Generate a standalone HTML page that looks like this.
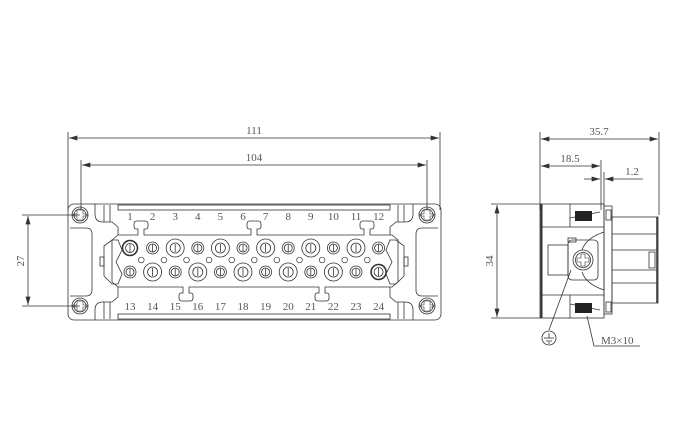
<!DOCTYPE html>
<html><head><style>html,body{margin:0;padding:0;background:#fff}svg{display:block}text{font-family:"Liberation Serif",serif;font-size:11px;fill:#555}</style></head>
<body>
<svg width="680" height="440" viewBox="0 0 680 440" xmlns="http://www.w3.org/2000/svg">
<defs>
<marker id="a" viewBox="0 0 10 6" refX="10" refY="3" markerWidth="9" markerHeight="5" orient="auto-start-reverse" markerUnits="userSpaceOnUse"><path d="M0,0L10,3L0,6z" fill="#333"/></marker>
</defs>
<g stroke="#333" stroke-width="0.8" fill="none">
<line x1="68" y1="132" x2="68" y2="210"/><line x1="440" y1="132" x2="440" y2="210"/>
<line x1="69" y1="138" x2="439" y2="138" marker-start="url(#a)" marker-end="url(#a)"/>
<line x1="81" y1="160" x2="81" y2="210"/><line x1="427" y1="160" x2="427" y2="210"/>
<line x1="82" y1="165" x2="426" y2="165" marker-start="url(#a)" marker-end="url(#a)"/>
<line x1="22" y1="215" x2="80" y2="215"/><line x1="22" y1="306" x2="80" y2="306"/>
<line x1="28" y1="216" x2="28" y2="305" marker-start="url(#a)" marker-end="url(#a)"/>
<rect x="68" y="204" width="373" height="116" rx="6"/>
<path d="M95,204 V214 Q95,222 103,222 H112 L118,227 V235"/>
<path d="M95,320 V310 Q95,302 103,302 H112 L118,297 V287"/>
<path d="M413,204 V214 Q413,222 405,222 H396 L390,227 V235"/>
<path d="M413,320 V310 Q413,302 405,302 H396 L390,297 V287"/>
<path d="M70,228 H86 Q92,228 92,234 V290 Q92,296 86,296 H70"/>
<path d="M438,228 H422 Q416,228 416,234 V290 Q416,296 422,296 H438"/>
<rect x="118" y="205" width="272" height="5"/><rect x="118" y="314" width="272" height="5"/>
<line x1="104" y1="205" x2="104" y2="222"/><line x1="110" y1="205" x2="110" y2="222"/>
<line x1="104" y1="302" x2="104" y2="319"/><line x1="110" y1="302" x2="110" y2="319"/>
<line x1="398" y1="205" x2="398" y2="222"/><line x1="404" y1="205" x2="404" y2="222"/>
<line x1="398" y1="302" x2="398" y2="319"/><line x1="404" y1="302" x2="404" y2="319"/>
<path d="M118,235 H138 V229 H136 Q134,229 134,226 V224 Q134,221 137,221 H145 Q148,221 148,224 V226 Q148,229 146,229 H144 V235 H251 V229 H249 Q247,229 247,226 V224 Q247,221 250,221 H258 Q261,221 261,224 V226 Q261,229 259,229 H257 V235 H364 V229 H362 Q360,229 360,226 V224 Q360,221 363,221 H371 Q374,221 374,224 V226 Q374,229 372,229 H370 V235 H392 L398,240 V282 L392,287 H325 V293 H327 Q329,293 329,296 V298 Q329,301 326,301 H318 Q315,301 315,298 V296 Q315,293 317,293 H319 V287 H189 V293 H191 Q193,293 193,296 V298 Q193,301 190,301 H182 Q179,301 179,298 V296 Q179,293 181,293 H183 V287 H118 L112,282 V240 Z"/>
<path d="M104,246 L112,240 H118 L122,250 L116,262 L122,274 L118,284 H112 L104,276 Z"/>
<rect x="100" y="257" width="4" height="9"/>
<path d="M404,246 L396,240 H390 L386,250 L392,262 L386,274 L390,284 H396 L404,276 Z"/>
<rect x="404" y="257" width="4" height="9"/>
<g id="s"><circle cx="80" cy="215" r="8"/><circle cx="80" cy="215" r="6"/><path d="M77,210h6v4h4v2h-4v4h-6v-4h-4v-2h4z" stroke-width="0.6"/></g>
<use href="#s" transform="translate(0,91)"/><use href="#s" transform="translate(347,0)"/><use href="#s" transform="translate(347,91)"/>
<line x1="540" y1="132" x2="540" y2="210"/><line x1="659" y1="132" x2="659" y2="215"/>
<line x1="541" y1="139" x2="658" y2="139" marker-start="url(#a)" marker-end="url(#a)"/>
<line x1="601" y1="160" x2="601" y2="210"/><line x1="604" y1="172" x2="604" y2="206"/>
<line x1="541" y1="166" x2="600" y2="166" marker-start="url(#a)" marker-end="url(#a)"/>
<line x1="584" y1="179" x2="600" y2="179" marker-end="url(#a)"/>
<line x1="621" y1="179" x2="605" y2="179" marker-end="url(#a)"/><line x1="621" y1="179" x2="643" y2="179"/>
<line x1="491" y1="204" x2="540" y2="204"/><line x1="491" y1="318" x2="540" y2="318"/>
<line x1="497" y1="205" x2="497" y2="317" marker-start="url(#a)" marker-end="url(#a)"/>
<rect x="540" y="204" width="64" height="114"/>
<line x1="541.5" y1="204" x2="541.5" y2="318" stroke-width="2"/>
<line x1="540" y1="227" x2="604" y2="227"/><line x1="540" y1="295" x2="604" y2="295"/>
<line x1="570" y1="204" x2="570" y2="227"/><line x1="570" y1="295" x2="570" y2="318"/>
<path d="M570,218 L600,212"/><path d="M570,304 L600,310"/>
<path d="M604,232 Q586,238 582,250"/><path d="M604,290 Q586,284 582,272"/>
<rect x="548" y="245" width="20" height="30"/><rect x="568" y="240" width="30" height="40" rx="4"/>
<rect x="568" y="238" width="8" height="4"/>
<circle cx="583" cy="260" r="10"/><circle cx="583" cy="260" r="7.5"/>
<path d="M581,254h4v4h4v4h-4v4h-4v-4h-4v-4h4z" stroke-width="0.6"/>
<rect x="604" y="206" width="8" height="108"/>
<rect x="606" y="210" width="5" height="10"/><rect x="606" y="302" width="5" height="10"/>
<rect x="612" y="217" width="46" height="86"/>
<line x1="612" y1="234" x2="658" y2="234"/><line x1="612" y1="283" x2="658" y2="283"/>
<line x1="612" y1="250" x2="658" y2="250"/><line x1="612" y1="270" x2="658" y2="270"/>
<rect x="649" y="252" width="6" height="16"/>
<line x1="657" y1="217" x2="657" y2="303" stroke-width="1.5"/>
<line x1="571" y1="270" x2="549" y2="330"/>
<circle cx="549" cy="338" r="7"/>
<line x1="549" y1="333" x2="549" y2="338"/><line x1="544" y1="338" x2="554" y2="338"/><line x1="546" y1="341" x2="552" y2="341"/><line x1="548" y1="343" x2="550" y2="343"/>
<path d="M587,316 L594,346 H640"/>
</g>
<rect x="575" y="211" width="17" height="10" fill="#222"/><rect x="575" y="303" width="17" height="10" fill="#222"/>
<g stroke="#333" stroke-width="0.8" fill="none">
<circle cx="130" cy="248" r="7.5" stroke-width="1.6"/><circle cx="130" cy="248" r="4.5"/><line x1="130" y1="244" x2="130" y2="252"/>
<circle cx="152.6" cy="248" r="6"/><circle cx="152.6" cy="248" r="4"/><line x1="152.6" y1="244.5" x2="152.6" y2="251.5"/>
<circle cx="175.2" cy="248" r="9"/><circle cx="175.2" cy="248" r="5"/><line x1="175.2" y1="244" x2="175.2" y2="252"/>
<circle cx="197.8" cy="248" r="6"/><circle cx="197.8" cy="248" r="4"/><line x1="197.8" y1="244.5" x2="197.8" y2="251.5"/>
<circle cx="220.4" cy="248" r="9"/><circle cx="220.4" cy="248" r="5"/><line x1="220.4" y1="244" x2="220.4" y2="252"/>
<circle cx="243" cy="248" r="6"/><circle cx="243" cy="248" r="4"/><line x1="243" y1="244.5" x2="243" y2="251.5"/>
<circle cx="265.6" cy="248" r="9"/><circle cx="265.6" cy="248" r="5"/><line x1="265.6" y1="244" x2="265.6" y2="252"/>
<circle cx="288.2" cy="248" r="6"/><circle cx="288.2" cy="248" r="4"/><line x1="288.2" y1="244.5" x2="288.2" y2="251.5"/>
<circle cx="310.8" cy="248" r="9"/><circle cx="310.8" cy="248" r="5"/><line x1="310.8" y1="244" x2="310.8" y2="252"/>
<circle cx="333.4" cy="248" r="6"/><circle cx="333.4" cy="248" r="4"/><line x1="333.4" y1="244.5" x2="333.4" y2="251.5"/>
<circle cx="356" cy="248" r="9"/><circle cx="356" cy="248" r="5"/><line x1="356" y1="244" x2="356" y2="252"/>
<circle cx="378.6" cy="248" r="6"/><circle cx="378.6" cy="248" r="4"/><line x1="378.6" y1="244.5" x2="378.6" y2="251.5"/>
<circle cx="130" cy="272" r="6"/><circle cx="130" cy="272" r="4"/><line x1="130" y1="268.5" x2="130" y2="275.5"/>
<circle cx="152.6" cy="272" r="9"/><circle cx="152.6" cy="272" r="5"/><line x1="152.6" y1="268" x2="152.6" y2="276"/>
<circle cx="175.2" cy="272" r="6"/><circle cx="175.2" cy="272" r="4"/><line x1="175.2" y1="268.5" x2="175.2" y2="275.5"/>
<circle cx="197.8" cy="272" r="9"/><circle cx="197.8" cy="272" r="5"/><line x1="197.8" y1="268" x2="197.8" y2="276"/>
<circle cx="220.4" cy="272" r="6"/><circle cx="220.4" cy="272" r="4"/><line x1="220.4" y1="268.5" x2="220.4" y2="275.5"/>
<circle cx="243" cy="272" r="9"/><circle cx="243" cy="272" r="5"/><line x1="243" y1="268" x2="243" y2="276"/>
<circle cx="265.6" cy="272" r="6"/><circle cx="265.6" cy="272" r="4"/><line x1="265.6" y1="268.5" x2="265.6" y2="275.5"/>
<circle cx="288.2" cy="272" r="9"/><circle cx="288.2" cy="272" r="5"/><line x1="288.2" y1="268" x2="288.2" y2="276"/>
<circle cx="310.8" cy="272" r="6"/><circle cx="310.8" cy="272" r="4"/><line x1="310.8" y1="268.5" x2="310.8" y2="275.5"/>
<circle cx="333.4" cy="272" r="9"/><circle cx="333.4" cy="272" r="5"/><line x1="333.4" y1="268" x2="333.4" y2="276"/>
<circle cx="356" cy="272" r="6"/><circle cx="356" cy="272" r="4"/><line x1="356" y1="268.5" x2="356" y2="275.5"/>
<circle cx="378.6" cy="272" r="7.5" stroke-width="1.6"/><circle cx="378.6" cy="272" r="4.5"/><line x1="378.6" y1="268" x2="378.6" y2="276"/>
<g stroke-width="0.7">
<circle cx="141.3" cy="260" r="2.8"/><circle cx="163.9" cy="260" r="2.8"/><circle cx="186.5" cy="260" r="2.8"/><circle cx="209.1" cy="260" r="2.8"/><circle cx="231.7" cy="260" r="2.8"/><circle cx="254.3" cy="260" r="2.8"/><circle cx="276.9" cy="260" r="2.8"/><circle cx="299.5" cy="260" r="2.8"/><circle cx="322.1" cy="260" r="2.8"/><circle cx="344.7" cy="260" r="2.8"/><circle cx="367.3" cy="260" r="2.8"/>
</g>
</g>
<text x="254" y="134" text-anchor="middle">111</text>
<text x="254" y="161" text-anchor="middle">104</text>
<text x="599" y="135" text-anchor="middle">35.7</text>
<text x="570" y="162" text-anchor="middle">18.5</text>
<text x="632" y="175" text-anchor="middle">1.2</text>
<text x="24" y="261" text-anchor="middle" transform="rotate(-90 24 261)">27</text>
<text x="493" y="261" text-anchor="middle" transform="rotate(-90 493 261)">34</text>
<text x="601" y="344">M3×10</text>
<g text-anchor="middle">
<text x="130" y="220">1</text><text x="152.6" y="220">2</text><text x="175.2" y="220">3</text><text x="197.8" y="220">4</text><text x="220.4" y="220">5</text><text x="243" y="220">6</text><text x="265.6" y="220">7</text><text x="288.2" y="220">8</text><text x="310.8" y="220">9</text><text x="333.4" y="220">10</text><text x="356" y="220">11</text><text x="378.6" y="220">12</text>
<text x="130" y="310">13</text><text x="152.6" y="310">14</text><text x="175.2" y="310">15</text><text x="197.8" y="310">16</text><text x="220.4" y="310">17</text><text x="243" y="310">18</text><text x="265.6" y="310">19</text><text x="288.2" y="310">20</text><text x="310.8" y="310">21</text><text x="333.4" y="310">22</text><text x="356" y="310">23</text><text x="378.6" y="310">24</text>
</g>
</svg>
</body></html>
